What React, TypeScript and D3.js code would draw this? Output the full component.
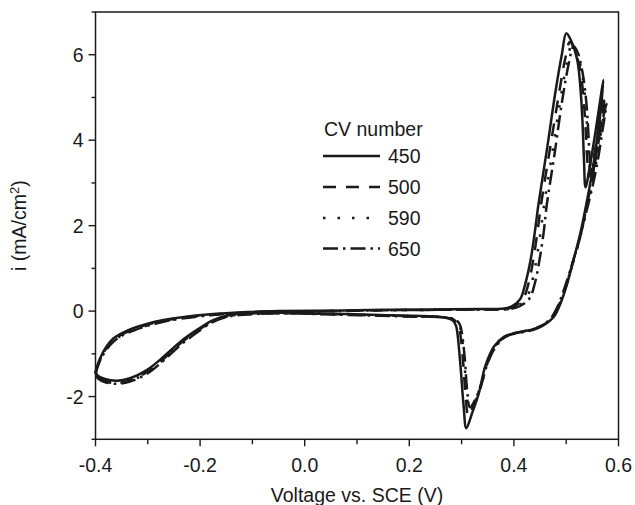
import React from 'react';
import * as d3 from 'd3';

type P = [number, number];

const xTickValues = [-0.4, -0.2, 0, 0.2, 0.4, 0.6];
const xTickLabels = ['-0.4', '-0.2', '0.0', '0.2', '0.4', '0.6'];
const xMinorTicks = [-0.3, -0.1, 0.1, 0.3, 0.5];
const yTickValues = [-2, 0, 2, 4, 6];
const yTickLabels = ['-2', '0', '2', '4', '6'];
const yMinorTicks = [-3, -1, 1, 3, 5, 7];
const legendTitle = 'CV number';
const seriesNames = ['450', '500', '590', '650'];

const cv450: P[] = [
  [-0.400, -1.42], [-0.391, -1.10], [-0.379, -0.83], [-0.366, -0.64], [-0.350, -0.52], [-0.328, -0.40],
  [-0.302, -0.30], [-0.270, -0.21], [-0.238, -0.15], [-0.175, -0.07], [-0.110, -0.02], [-0.050, 0.00],
  [0.050, 0.01], [0.150, 0.03], [0.250, 0.04], [0.340, 0.05], [0.381, 0.06], [0.397, 0.12], [0.412, 0.28],
  [0.422, 0.65], [0.432, 1.20], [0.440, 1.85], [0.447, 2.50], [0.464, 3.85], [0.479, 5.10], [0.492, 6.03],
  [0.500, 6.50], [0.509, 6.34], [0.521, 5.88], [0.527, 5.25], [0.531, 4.47], [0.534, 3.54], [0.537, 2.90],
  [0.546, 3.45], [0.556, 4.20], [0.564, 4.85], [0.571, 5.41],
  [0.565, 4.60], [0.557, 3.85], [0.549, 3.20], [0.540, 2.60], [0.527, 1.82], [0.514, 1.20], [0.502, 0.65],
  [0.489, 0.18], [0.476, -0.14], [0.457, -0.33], [0.432, -0.44], [0.400, -0.52], [0.381, -0.60], [0.362, -0.83],
  [0.345, -1.30], [0.333, -1.92], [0.320, -2.39], [0.309, -2.74], [0.304, -2.24], [0.298, -1.30], [0.292, -0.52],
  [0.289, -0.33], [0.282, -0.21], [0.266, -0.15], [0.208, -0.11], [0.144, -0.09], [0.050, -0.06], [-0.050, -0.04],
  [-0.110, -0.06], [-0.143, -0.09], [-0.175, -0.21], [-0.206, -0.44], [-0.238, -0.72], [-0.270, -1.07],
  [-0.302, -1.38], [-0.334, -1.57], [-0.359, -1.63], [-0.382, -1.59], [-0.395, -1.52], [-0.400, -1.42],
];

const cv500: P[] = [
  [-0.400, -1.45], [-0.392, -1.15], [-0.380, -0.88], [-0.366, -0.68], [-0.350, -0.55], [-0.328, -0.43],
  [-0.302, -0.32], [-0.270, -0.23], [-0.238, -0.16], [-0.175, -0.08], [-0.110, -0.03], [-0.050, -0.01],
  [0.050, 0.00], [0.150, 0.02], [0.250, 0.03], [0.340, 0.04], [0.385, 0.05], [0.402, 0.12], [0.418, 0.30],
  [0.428, 0.65], [0.437, 1.20], [0.445, 1.85], [0.452, 2.50], [0.469, 3.80], [0.485, 5.00], [0.498, 5.90],
  [0.507, 6.30], [0.515, 6.15], [0.526, 5.70], [0.533, 5.00], [0.537, 4.30], [0.540, 3.60], [0.544, 3.15],
  [0.552, 3.55], [0.561, 4.20], [0.568, 4.70], [0.574, 5.05],
  [0.567, 4.40], [0.558, 3.70], [0.549, 3.05], [0.540, 2.50], [0.527, 1.75], [0.513, 1.15], [0.500, 0.60],
  [0.487, 0.15], [0.474, -0.15], [0.455, -0.33], [0.430, -0.44], [0.400, -0.52], [0.382, -0.60], [0.364, -0.82],
  [0.348, -1.25], [0.336, -1.80], [0.323, -2.20], [0.313, -2.45], [0.308, -2.05], [0.303, -1.20], [0.297, -0.50],
  [0.293, -0.32], [0.285, -0.20], [0.268, -0.15], [0.208, -0.12], [0.144, -0.10], [0.050, -0.07], [-0.050, -0.05],
  [-0.110, -0.07], [-0.143, -0.11], [-0.175, -0.23], [-0.206, -0.47], [-0.238, -0.76], [-0.270, -1.12],
  [-0.302, -1.43], [-0.334, -1.62], [-0.356, -1.68], [-0.380, -1.64], [-0.395, -1.55], [-0.400, -1.45],
];

const cv590: P[] = [
  [-0.400, -1.46], [-0.392, -1.16], [-0.380, -0.90], [-0.366, -0.70], [-0.350, -0.57], [-0.328, -0.45],
  [-0.302, -0.34], [-0.270, -0.24], [-0.238, -0.17], [-0.175, -0.09], [-0.110, -0.03], [-0.050, -0.01],
  [0.050, 0.00], [0.150, 0.02], [0.250, 0.03], [0.340, 0.04], [0.390, 0.05], [0.408, 0.12], [0.424, 0.30],
  [0.434, 0.65], [0.443, 1.20], [0.451, 1.85], [0.458, 2.50], [0.474, 3.75], [0.489, 4.95], [0.502, 5.85],
  [0.511, 6.25], [0.519, 6.10], [0.529, 5.65], [0.536, 5.00], [0.540, 4.30], [0.543, 3.65], [0.547, 3.25],
  [0.555, 3.65], [0.563, 4.25], [0.570, 4.70], [0.576, 4.95],
  [0.568, 4.30], [0.559, 3.60], [0.550, 3.00], [0.540, 2.45], [0.526, 1.70], [0.512, 1.10], [0.499, 0.58],
  [0.486, 0.14], [0.473, -0.15], [0.454, -0.34], [0.430, -0.45], [0.400, -0.52], [0.383, -0.60], [0.365, -0.82],
  [0.350, -1.20], [0.338, -1.70], [0.325, -2.10], [0.315, -2.30], [0.310, -1.95], [0.305, -1.15], [0.299, -0.48],
  [0.295, -0.31], [0.287, -0.20], [0.270, -0.15], [0.208, -0.12], [0.144, -0.10], [0.050, -0.07], [-0.050, -0.05],
  [-0.110, -0.07], [-0.143, -0.11], [-0.175, -0.24], [-0.206, -0.48], [-0.238, -0.78], [-0.270, -1.14],
  [-0.302, -1.45], [-0.334, -1.63], [-0.355, -1.69], [-0.380, -1.65], [-0.395, -1.56], [-0.400, -1.46],
];

const cv650: P[] = [
  [-0.400, -1.47], [-0.392, -1.18], [-0.380, -0.92], [-0.366, -0.72], [-0.350, -0.58], [-0.328, -0.46],
  [-0.302, -0.35], [-0.270, -0.25], [-0.238, -0.18], [-0.175, -0.09], [-0.110, -0.04], [-0.050, -0.01],
  [0.050, 0.00], [0.150, 0.02], [0.250, 0.03], [0.340, 0.04], [0.393, 0.05], [0.412, 0.12], [0.430, 0.30],
  [0.440, 0.65], [0.449, 1.20], [0.457, 1.85], [0.463, 2.50], [0.478, 3.70], [0.492, 4.90], [0.505, 5.80],
  [0.514, 6.20], [0.522, 6.05], [0.531, 5.60], [0.538, 4.95], [0.542, 4.25], [0.545, 3.60], [0.549, 3.20],
  [0.557, 3.60], [0.565, 4.20], [0.572, 4.60], [0.577, 4.85],
  [0.569, 4.20], [0.560, 3.50], [0.550, 2.90], [0.539, 2.35], [0.524, 1.62], [0.510, 1.05], [0.497, 0.55],
  [0.484, 0.12], [0.471, -0.16], [0.453, -0.35], [0.430, -0.46], [0.400, -0.53], [0.383, -0.61], [0.366, -0.82],
  [0.351, -1.18], [0.339, -1.65], [0.327, -2.05], [0.316, -2.25], [0.311, -1.90], [0.306, -1.10], [0.300, -0.47],
  [0.296, -0.30], [0.288, -0.20], [0.271, -0.15], [0.208, -0.13], [0.144, -0.11], [0.050, -0.08], [-0.050, -0.05],
  [-0.110, -0.08], [-0.143, -0.12], [-0.175, -0.25], [-0.206, -0.50], [-0.238, -0.80], [-0.270, -1.16],
  [-0.302, -1.47], [-0.334, -1.65], [-0.354, -1.70], [-0.380, -1.67], [-0.395, -1.58], [-0.400, -1.47],
];

const seriesData = [cv450, cv500, cv590, cv650];
const seriesDash = ['none', '13 10', '2.5 12', '15 5 2.5 5'];

const W = 635;
const H = 505;
const PL = 95.5;
const PR = 618.5;
const PT = 12;
const PB = 439.3;
const FONT = '"Liberation Sans", Arial, Helvetica, sans-serif';
const INK = '#1a1a1a';

export default function App() {
  const x = d3.scaleLinear().domain([-0.4, 0.6]).range([PL, PR]);
  const y = d3.scaleLinear().domain([-3, 7]).range([PB, PT]);
  const line = d3
    .line<P>()
    .x((d) => x(d[0]))
    .y((d) => y(d[1]))
    .curve(d3.curveCatmullRom.alpha(0.5));

  const order = [3, 2, 1, 0];
  const legX0 = 323;
  const legX1 = 380;
  const legRowY = [156, 187, 218, 248.5];

  return (
    <svg
      width={W}
      height={H}
      style={{ position: 'absolute', left: 0, top: 0, background: '#fff' }}
      fontFamily={FONT}
    >
      <rect x={0} y={0} width={W} height={H} fill="#fff" />
      <g fill="none" stroke={INK} strokeWidth={2.5} strokeLinejoin="round">
        {order.map((k) => (
          <path
            key={k}
            d={line(seriesData[k]) || ''}
            strokeDasharray={seriesDash[k] === 'none' ? undefined : seriesDash[k]}
          />
        ))}
      </g>
      <rect x={PL} y={PT} width={PR - PL} height={PB - PT} fill="none" stroke={INK} strokeWidth={1.5} />
      <g stroke={INK} strokeWidth={1.4}>
        {xTickValues.map((v, i) => (
          <line key={'xt' + i} x1={x(v)} x2={x(v)} y1={PB} y2={PB + 7} />
        ))}
        {xMinorTicks.map((v, i) => (
          <line key={'xm' + i} x1={x(v)} x2={x(v)} y1={PB} y2={PB + 5} />
        ))}
        {yTickValues.map((v, i) => (
          <line key={'yt' + i} x1={PL - 7} x2={PL} y1={y(v)} y2={y(v)} />
        ))}
        {yMinorTicks.map((v, i) => (
          <line key={'ym' + i} x1={PL - 4} x2={PL} y1={y(v)} y2={y(v)} />
        ))}
      </g>
      <g fontSize={19.5} fill={INK}>
        {xTickValues.map((v, i) => (
          <text key={'xl' + i} x={x(v)} y={472} textAnchor="middle">
            {xTickLabels[i]}
          </text>
        ))}
        {yTickValues.map((v, i) => (
          <text key={'yl' + i} x={PL - 12} y={y(v)} dy="0.36em" textAnchor="end">
            {yTickLabels[i]}
          </text>
        ))}
        <text x={(PL + PR) / 2} y={502} textAnchor="middle">
          Voltage vs. SCE (V)
        </text>
        <text transform={`translate(26, ${(PT + PB) / 2}) rotate(-90)`} textAnchor="middle">
          i (mA/cm<tspan fontSize={13} dy={-7}>2</tspan>
          <tspan dy={7}>)</tspan>
        </text>
      </g>
      <g fontSize={19.5} fill={INK}>
        <text x={324} y={136}>
          {legendTitle}
        </text>
        {seriesNames.map((name, k) => (
          <g key={'lg' + k}>
            <line
              x1={legX0}
              x2={legX1}
              y1={legRowY[k]}
              y2={legRowY[k]}
              stroke={INK}
              strokeWidth={2.4}
              strokeDasharray={seriesDash[k] === 'none' ? undefined : seriesDash[k]}
            />
            <text x={388} y={legRowY[k]} dy="0.36em">
              {name}
            </text>
          </g>
        ))}
      </g>
    </svg>
  );
}
